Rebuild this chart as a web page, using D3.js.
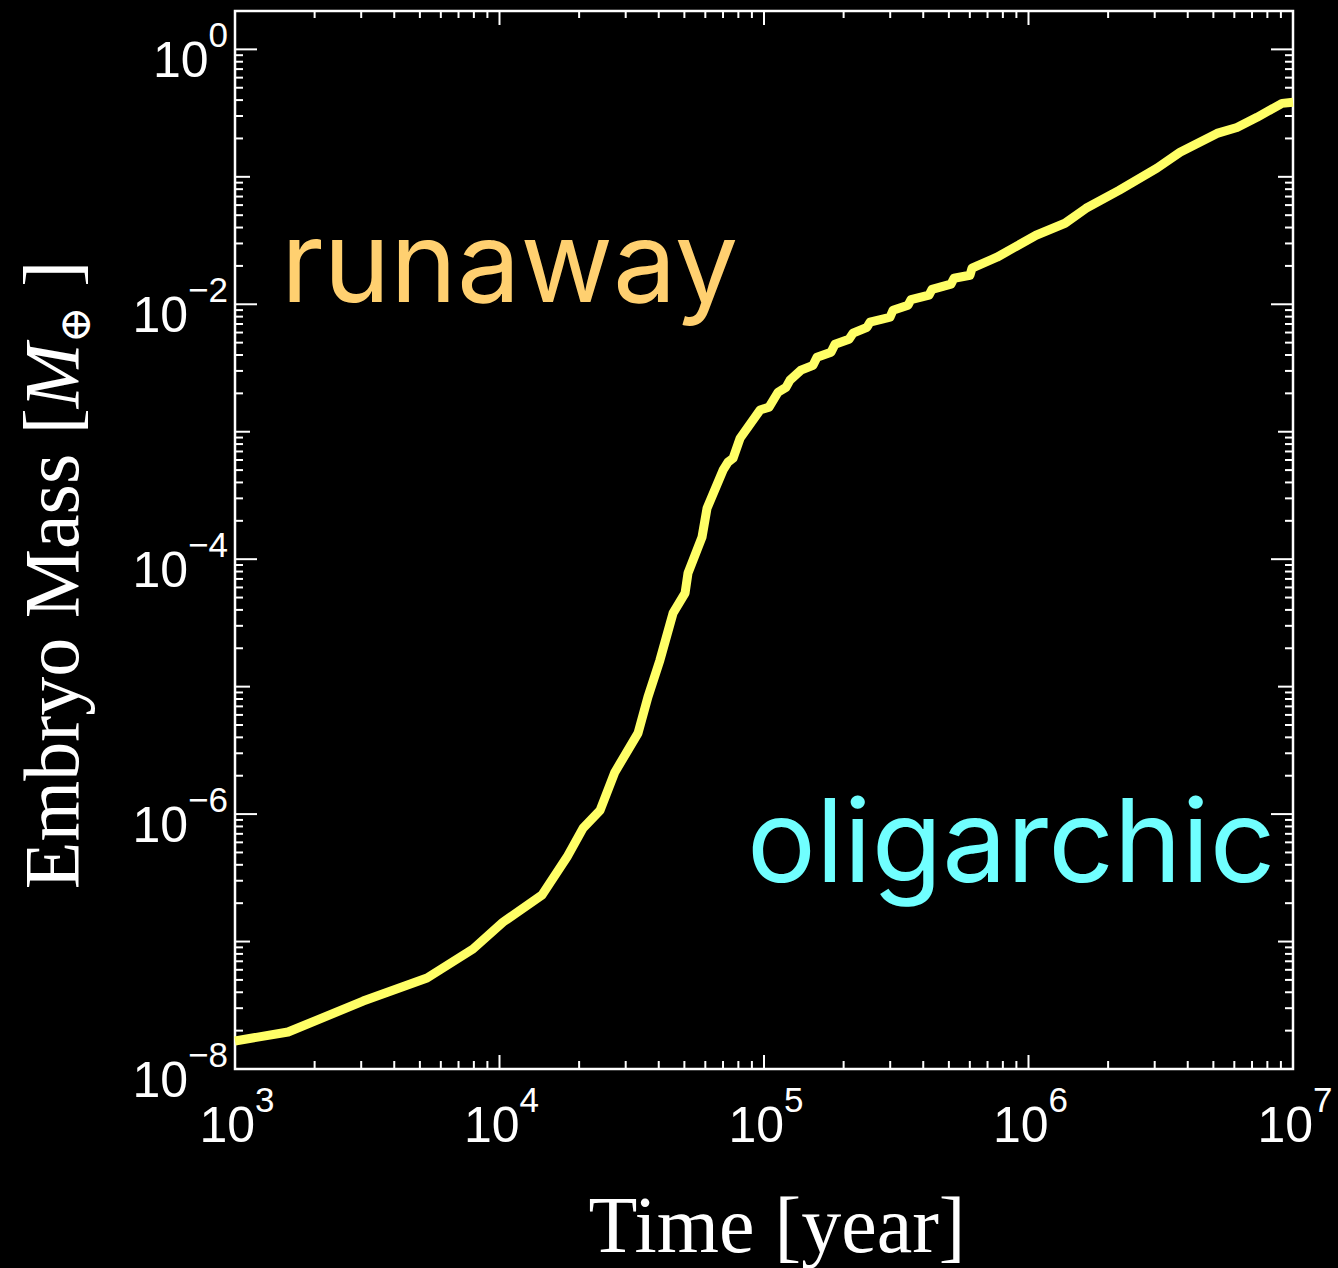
<!DOCTYPE html>
<html>
<head>
<meta charset="utf-8">
<script src="https://cdn.jsdelivr.net/npm/d3@7"></script>
<style>
  html, body { margin: 0; padding: 0; background: #000; }
  svg { display: block; }
</style>
</head>
<body>
<svg id="chart" width="1338" height="1268"></svg>
<script>
// Embryo growth track: time in years, mass in Earth masses
const timeYears = [
  1.00e3, 1.587e3, 3.05e3, 5.32e3, 7.94e3, 1.031e4, 1.448e4, 1.80e4, 2.07e4, 2.40e4,
  2.73e4, 3.34e4, 3.64e4, 4.04e4, 4.53e4, 5.03e4, 5.16e4, 5.83e4, 6.09e4, 7.00e4,
  7.31e4, 7.64e4, 8.12e4, 9.66e4, 1.045e5, 1.13e5, 1.211e5, 1.254e5, 1.380e5, 1.532e5,
  1.586e5, 1.792e5, 1.855e5, 2.096e5, 2.170e5, 2.451e5, 2.516e5, 2.995e5, 3.074e5, 3.503e5,
  3.596e5, 4.206e5, 4.317e5, 5.093e5, 5.228e5, 6.008e5, 6.114e5, 7.60e5, 1.068e6, 1.374e6,
  1.650e6, 2.199e6, 3.06e6, 3.74e6, 5.16e6, 6.14e6, 7.31e6, 9.09e6, 1.00e7
];
const embryoMass = [
  1.66e-8, 1.95e-8, 3.41e-8, 5.18e-8, 8.74e-8, 1.42e-7, 2.32e-7, 4.60e-7, 7.76e-7, 1.07e-6,
  2.13e-6, 4.32e-6, 8.28e-6, 1.61e-5, 3.77e-5, 5.41e-5, 7.76e-5, 1.49e-4, 2.51e-4, 4.99e-4,
  5.77e-4, 6.19e-4, 8.89e-4, 1.48e-3, 1.56e-3, 2.04e-3, 2.23e-3, 2.54e-3, 3.04e-3, 3.32e-3,
  3.84e-3, 4.20e-3, 4.85e-3, 5.31e-3, 5.93e-3, 6.60e-3, 7.23e-3, 7.91e-3, 8.97e-3, 9.82e-3,
  1.09e-2, 1.18e-2, 1.31e-2, 1.44e-2, 1.60e-2, 1.69e-2, 1.92e-2, 2.34e-2, 3.48e-2, 4.32e-2,
  5.66e-2, 7.83e-2, 0.117, 0.156, 0.219, 0.244, 0.293, 0.377, 0.384
];

// Axis ticks (powers of ten)
const xMajorExponents = [3, 4, 5, 6, 7];
const yMajorExponents = [0, -1, -2, -3, -4, -5, -6, -7, -8];
const yLabelExponents = [0, -2, -4, -6, -8];

const svg = d3.select("#chart");
const plot = { left: 235, right: 1293, top: 11, bottom: 1069 };

const x = d3.scaleLog().domain([1e3, 1e7]).range([plot.left, plot.right]);
const y = d3.scaleLog().domain([1e-8, 2]).range([plot.bottom, plot.top]);

svg.append("rect").attr("width", 1338).attr("height", 1268).attr("fill", "#000");

const white = "#ffffff";
const tickW = 2;

// minor ticks: 2..9 × 10^k inside the domains
const mantissa = v => Math.round(v / Math.pow(10, Math.floor(Math.log10(v) + 1e-9)));
const xMinor = x.ticks().filter(v => mantissa(v) !== 1);
const yMinor = y.ticks().filter(v => mantissa(v) !== 1 && v < 1.0001);

const ticks = svg.append("g").attr("stroke", white).attr("stroke-width", tickW);

// bottom & top x ticks (inward)
xMinor.forEach(v => {
  ticks.append("line").attr("x1", x(v)).attr("x2", x(v)).attr("y1", plot.bottom).attr("y2", plot.bottom - 8);
  ticks.append("line").attr("x1", x(v)).attr("x2", x(v)).attr("y1", plot.top).attr("y2", plot.top + 7);
});
xMajorExponents.forEach(e => {
  const v = Math.pow(10, e);
  ticks.append("line").attr("x1", x(v)).attr("x2", x(v)).attr("y1", plot.bottom).attr("y2", plot.bottom - 14);
  ticks.append("line").attr("x1", x(v)).attr("x2", x(v)).attr("y1", plot.top).attr("y2", plot.top + 14);
});

// left & right y ticks (inward)
yMinor.forEach(v => {
  ticks.append("line").attr("y1", y(v)).attr("y2", y(v)).attr("x1", plot.left).attr("x2", plot.left + 8);
  ticks.append("line").attr("y1", y(v)).attr("y2", y(v)).attr("x1", plot.right).attr("x2", plot.right - 8);
});
yMajorExponents.forEach(e => {
  const v = Math.pow(10, e);
  const len = yLabelExponents.includes(e) ? 22 : 15;
  ticks.append("line").attr("y1", y(v)).attr("y2", y(v)).attr("x1", plot.left).attr("x2", plot.left + len);
  ticks.append("line").attr("y1", y(v)).attr("y2", y(v)).attr("x1", plot.right).attr("x2", plot.right - len);
});

// frame
svg.append("rect")
  .attr("x", plot.left).attr("y", plot.top)
  .attr("width", plot.right - plot.left).attr("height", plot.bottom - plot.top)
  .attr("fill", "none").attr("stroke", white).attr("stroke-width", 2.5);

const sansFont = "'Liberation Sans', Arial, Helvetica, sans-serif";
const serifFont = "'Liberation Serif', 'Times New Roman', Times, serif";
const minus = "\u2212";

// x tick labels: 10^k
xMajorExponents.forEach(e => {
  const t = svg.append("text")
    .attr("x", x(Math.pow(10, e)) + 2)
    .attr("y", 1142)
    .attr("text-anchor", "middle")
    .attr("font-family", sansFont)
    .attr("font-size", 50)
    .attr("fill", white);
  t.append("tspan").text("10");
  t.append("tspan").attr("font-size", 35).attr("dy", -30).text(e < 0 ? minus + Math.abs(e) : String(e));
});

// y tick labels: 10^k, every other decade
yLabelExponents.forEach(e => {
  const t = svg.append("text")
    .attr("x", 228)
    .attr("y", y(Math.pow(10, e)) + 28)
    .attr("text-anchor", "end")
    .attr("font-family", sansFont)
    .attr("font-size", 50)
    .attr("fill", white);
  t.append("tspan").text("10");
  t.append("tspan").attr("font-size", 35).attr("dy", -30).text(e < 0 ? minus + Math.abs(e) : String(e));
});

// axis titles
svg.append("text")
  .attr("x", 777).attr("y", 1252)
  .attr("text-anchor", "middle")
  .attr("font-family", serifFont)
  .attr("font-size", 80)
  .attr("fill", white)
  .text("Time [year]");

const yTitle = svg.append("text")
  .attr("transform", "translate(78,575) rotate(-90)")
  .attr("text-anchor", "middle")
  .attr("font-family", serifFont)
  .attr("font-size", 78)
  .attr("fill", white);
yTitle.append("tspan").text("Embryo Mass [");
yTitle.append("tspan").attr("font-style", "italic").text("M");
yTitle.append("tspan").attr("font-size", 44).attr("dy", 12).attr("font-family", "'DejaVu Serif', serif").text("\u2295");
yTitle.append("tspan").attr("dy", -12).text(" ]");

// growth curve
const line = d3.line()
  .x((d, i) => x(timeYears[i]))
  .y(d => y(d));

svg.append("path")
  .datum(embryoMass)
  .attr("d", line)
  .attr("fill", "none")
  .attr("stroke", "#ffff66")
  .attr("stroke-width", 9)
  .attr("stroke-linejoin", "round")
  .attr("stroke-linecap", "butt");

// regime annotations
const labelFont = "Inter, 'Open Sans', 'Noto Sans', sans-serif";
svg.append("text")
  .attr("x", 281).attr("y", 302)
  .attr("font-family", labelFont)
  .attr("font-size", 113)
  .attr("fill", "#ffd070")
  .text("runaway");

svg.append("text")
  .attr("x", 747).attr("y", 882)
  .attr("font-family", labelFont)
  .attr("font-size", 115)
  .attr("fill", "#70ffff")
  .text("oligarchic");
</script>
</body>
</html>
